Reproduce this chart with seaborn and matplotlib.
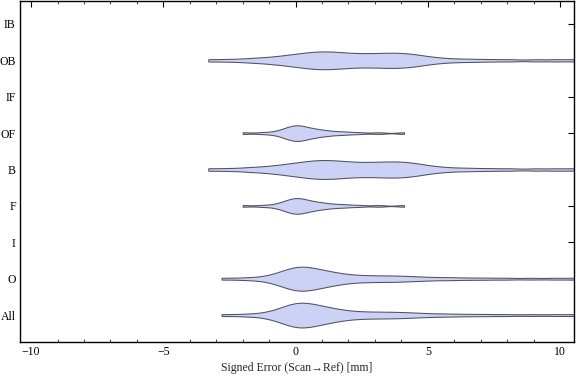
import matplotlib
matplotlib.use("Agg")
import matplotlib.pyplot as plt
import seaborn as sns
import pandas as pd
from matplotlib.ticker import MultipleLocator

categories = ["IB", "OB", "IF", "OF", "B", "F", "I", "O", "All"]

# sample errors (mm)
ob_vals = [-3.3, -2.62, -2.03, -1.64, -1.32, -1.04, -0.82, -0.61, -0.43, -0.28,
           -0.13, 0.01, 0.13, 0.24, 0.36, 0.47, 0.57, 0.67, 0.76, 0.86, 0.95,
           1.05, 1.14, 1.23, 1.32, 1.42, 1.51, 1.62, 1.72, 1.83, 1.93,
           2.04, 2.16, 2.28, 2.4, 2.52, 2.64, 2.76, 2.88, 3.0, 3.12, 3.23,
           3.35, 3.46, 3.57, 3.68, 3.79, 3.9, 4.01, 4.12, 4.24, 4.36, 4.49,
           4.63, 4.78, 4.96, 5.2, 5.45, 5.82, 6.28, 6.79, 7.42, 8.14, 9.05,
           9.85, 10.6]
of_vals = [-2.0, -1.29, -0.86, -0.61, -0.48, -0.37, -0.28, -0.22, -0.15, -0.09,
           -0.03, 0.02, 0.08, 0.13, 0.19, 0.26, 0.33, 0.41, 0.49, 0.56, 0.68,
           0.8, 0.92, 1.05, 1.22, 1.43, 1.7, 1.97, 2.41, 3.14, 4.1]
o_vals = [-2.8, -2.05, -1.54, -1.16, -0.92, -0.775, -0.63, -0.53, -0.45, -0.37,
          -0.29, -0.21, -0.15, -0.1, -0.04, 0.02, 0.07, 0.125, 0.18, 0.23,
          0.285, 0.34, 0.4, 0.46, 0.52, 0.575, 0.645, 0.715, 0.785, 0.855,
          0.925, 0.995, 1.08, 1.17, 1.26, 1.355, 1.47, 1.58, 1.7, 1.85, 2.0,
          2.18, 2.37, 2.57, 2.79, 3.0, 3.22, 3.44, 3.67, 3.89, 4.14, 4.4,
          4.71, 5.07, 5.54, 6.0, 6.6, 7.25, 8.0, 8.9, 9.8, 10.6]

series = {
    "OB": ob_vals,
    "OF": of_vals,
    "B": ob_vals,
    "F": of_vals,
    "O": o_vals,
    "All": o_vals,
}
widths = {"OB": 0.49, "OF": 0.43, "B": 0.52, "F": 0.43, "O": 0.66, "All": 0.68}
bws = {"OB": 0.28, "OF": 0.4, "B": 0.28, "F": 0.4, "O": 0.3, "All": 0.3}

sns.set_theme(style="white")
plt.rcParams["font.family"] = ["Liberation Serif", "DejaVu Serif"]

fig = plt.figure(figsize=(5.76, 3.81), dpi=100)
ax = fig.add_axes([20 / 576, 1 - 342 / 381, 554 / 576, 341 / 381])

for cat, vals in series.items():
    df = pd.DataFrame({"err": vals, "cat": [cat] * len(vals)})
    sns.violinplot(data=df, x="err", y="cat", order=categories, orient="h",
                   cut=0, inner=None, width=widths[cat], bw_adjust=bws[cat],
                   color="#ccd2f5", saturation=1, linewidth=0.75,
                   linecolor="#50505e", density_norm="width", gridsize=200,
                   ax=ax)

ax.set_xlim(-10.42, 10.53)
ax.set_ylim(8.74, -0.63)
ax.set_ylabel("")
ax.set_xlabel("Signed Error (Scan\u2192Ref) [mm]", fontsize=8.5, labelpad=3)
ax.set_xticks([-10, -5, 0, 5, 10])
ax.set_xticklabels(["\u221210", "\u22125", "0", "5", "10"])
ax.xaxis.set_minor_locator(MultipleLocator(1))
ax.tick_params(axis="both", which="major", direction="in", length=4, width=0.8,
               top=True, right=True, labelsize=8.5, colors="black", pad=3)
ax.tick_params(axis="x", which="minor", direction="in", length=2.3, width=0.6,
               top=True, bottom=True)
for s in ax.spines.values():
    s.set_color("black")
    s.set_linewidth(1.0)

fig.savefig("out.png", dpi=100)
